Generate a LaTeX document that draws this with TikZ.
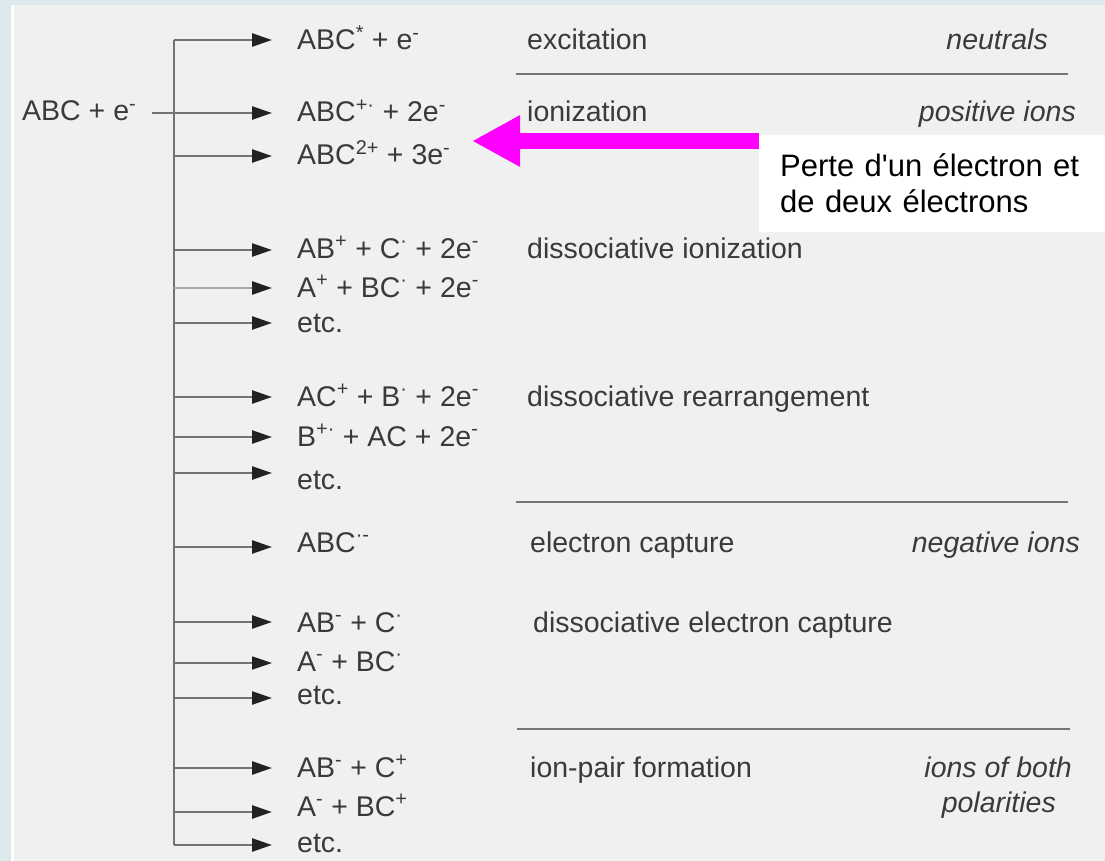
\documentclass[tikz,border=0pt]{standalone}
\usepackage{fontspec}
\usetikzlibrary{arrows.meta}
\newfontfamily\lsans{Liberation Sans}
\newcommand\fs{\lsans\fontsize{28.5}{34}\selectfont}
\newcommand\fsbox{\lsans\fontsize{31}{36}\selectfont}
\newcommand\up[1]{\textsuperscript{\raisebox{1.5pt}{#1}}}
\definecolor{bgblue}{HTML}{DCEAED}
\definecolor{panel}{HTML}{F0F0F0}
\definecolor{txt}{HTML}{3A3A3A}
\definecolor{linegray}{HTML}{737373}
\definecolor{lightline}{HTML}{A8A8A8}
\definecolor{arrowdark}{HTML}{222222}
\definecolor{sepgray}{HTML}{747474}
\definecolor{pink}{HTML}{FF00FF}
\begin{document}
\begin{tikzpicture}[x=1pt,y=-1pt,
  prod/.style={anchor=base west, inner sep=0pt, font=\fs, text=txt},
  desc/.style={anchor=base west, inner sep=0pt, font=\fs, text=txt},
  cat/.style={anchor=base east, inner sep=0pt, font=\fs\itshape, text=txt},
  trunk/.style={draw=linegray, line width=2.5pt},
  branch/.style={draw=linegray, line width=2.5pt, -{Triangle[length=20pt,width=13pt,color=arrowdark]}},
  sepline/.style={draw=sepgray, line width=2.5pt},
  bigarrow/.style={draw=pink, line width=16pt, -{Triangle[length=48pt,width=48pt,color=pink]}}]
\useasboundingbox (0,0) rectangle (1105,861);
\fill[bgblue] (0,0) rectangle (1105,861);
\fill[white] (11,5) rectangle (1105,861);
\fill[panel] (14,5) rectangle (1105,861);

% trunk
\coordinate (b1) at (174,40);
\coordinate (b16) at (174,845);
\draw[trunk] (b1) -- (b16);

% input
\node[prod] (in) at (22,121) {ABC + e\up{-}};
\coordinate (inL) at (152,113);

% branch coordinates
\coordinate (t1) at (272,40);
\coordinate (t2) at (272,113);
\coordinate (b3) at (174,156);  \coordinate (t3) at (272,156);
\coordinate (b4) at (174,250);  \coordinate (t4) at (272,250);
\coordinate (b5) at (174,288);  \coordinate (t5) at (272,288);
\coordinate (b6) at (174,323);  \coordinate (t6) at (272,323);
\coordinate (b7) at (174,397);  \coordinate (t7) at (272,397);
\coordinate (b8) at (174,437);  \coordinate (t8) at (272,437);
\coordinate (b9) at (174,473);  \coordinate (t9) at (272,473);
\coordinate (b10) at (174,547); \coordinate (t10) at (272,547);
\coordinate (b11) at (174,622); \coordinate (t11) at (272,622);
\coordinate (b12) at (174,663); \coordinate (t12) at (272,663);
\coordinate (b13) at (174,698); \coordinate (t13) at (272,698);
\coordinate (b14) at (174,768); \coordinate (t14) at (272,768);
\coordinate (b15) at (174,812); \coordinate (t15) at (272,812);
\coordinate (t16) at (272,845);

\draw[branch] (b1) -- (t1);
\draw[branch] (inL) -- (t2);
\draw[branch] (b3) -- (t3);
\draw[branch] (b4) -- (t4);
\draw[branch, draw=lightline] (b5) -- (t5);
\draw[branch] (b6) -- (t6);
\draw[branch] (b7) -- (t7);
\draw[branch] (b8) -- (t8);
\draw[branch] (b9) -- (t9);
\draw[branch] (b10) -- (t10);
\draw[branch] (b11) -- (t11);
\draw[branch, line width=1.8pt] (b12) -- (t12);
\draw[branch] (b13) -- (t13);
\draw[branch] (b14) -- (t14);
\draw[branch] (b15) -- (t15);
\draw[branch] (b16) -- (t16);

% products
\node[prod] (p1) at (297,50) {ABC\up{*} + e\up{-}};
\node[prod] (p2) at (297,122) {ABC\up{+·} + 2e\up{-}};
\node[prod] (p3) at (297,165) {ABC\up{2+} + 3e\up{-}};
\node[prod] (p4) at (297,258) {AB\up{+} + C\up{·} + 2e\up{-}};
\node[prod] (p5) at (297,297) {A\up{+} + BC\up{·} + 2e\up{-}};
\node[prod] (p6) at (297,332) {etc.};
\node[prod] (p7) at (297,406) {AC\up{+} + B\up{·} + 2e\up{-}};
\node[prod] (p8) at (297,446) {B\up{+·} + AC + 2e\up{-}};
\node[prod] (p9) at (297,489) {etc.};
\node[prod] (p10) at (297,552) {ABC\up{·-}};
\node[prod] (p11) at (297,632) {AB\up{-} + C\up{·}};
\node[prod] (p12) at (297,671) {A\up{-} + BC\up{·}};
\node[prod] (p13) at (297,704) {etc.};
\node[prod] (p14) at (297,777) {AB\up{-} + C\up{+}};
\node[prod] (p15) at (297,816) {A\up{-} + BC\up{+}};
\node[prod] (p16) at (297,852) {etc.};

% descriptions
\node[desc] (d1) at (527,50) {excitation};
\node[desc] (d2) at (527,122) {ionization};
\node[desc] (d4) at (527,258) {dissociative ionization};
\node[desc] (d7) at (527,406) {dissociative rearrangement};
\node[desc] (d10) at (530,552) {electron capture};
\node[desc] (d11) at (533,632) {dissociative electron capture};
\node[desc] (d14) at (530,777) {ion-pair formation};

% categories
\node[cat] (c1) at (1048,50) {neutrals};
\node[cat] (c2) at (1076,122) {positive ions};
\node[cat] (c3) at (1080,552) {negative ions};
\node[cat] (c4) at (1072,777) {ions of both};
\node[cat] (c5) at (1056,812) {polarities};

% separators
\coordinate (s1a) at (516,74);  \coordinate (s1b) at (1068,74);
\coordinate (s2a) at (516,502); \coordinate (s2b) at (1068,502);
\coordinate (s3a) at (517,729); \coordinate (s3b) at (1070,729);
\draw[sepline] (s1a) -- (s1b);
\draw[sepline] (s2a) -- (s2b);
\draw[sepline] (s3a) -- (s3b);

% annotation
\node[fill=white, anchor=north west, minimum width=346pt, minimum height=97pt,
      inner xsep=21pt, inner ysep=0pt, text width=310pt, align=left, font=\fsbox, text=black]
      (box) at (759,135) {Perte d'un électron et\\de deux électrons};
\coordinate (tipA) at (472,141);
\draw[bigarrow] (box.west |- tipA) -- (tipA);
\end{tikzpicture}
\end{document}
